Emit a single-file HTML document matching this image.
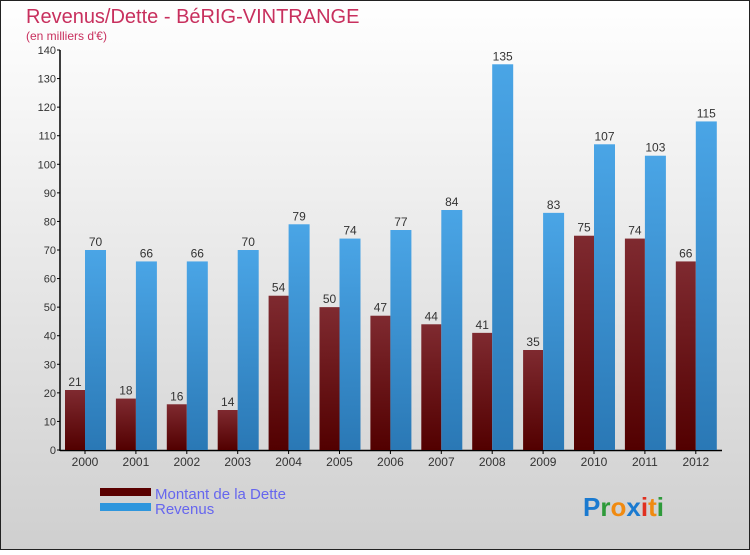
<!DOCTYPE html>
<html><head><meta charset="utf-8"><style>
body{margin:0}
svg text{font-family:"Liberation Sans",sans-serif}
</style></head><body>
<svg width="750" height="550" xmlns="http://www.w3.org/2000/svg">
<defs>
<linearGradient id="bg" x1="0" y1="0" x2="0" y2="1"><stop offset="0" stop-color="#ffffff"/><stop offset="1" stop-color="#cfcfcf"/></linearGradient>
<linearGradient id="gd" x1="0" y1="0" x2="0" y2="1"><stop offset="0" stop-color="#7f2a30"/><stop offset="1" stop-color="#520000"/></linearGradient>
<linearGradient id="gr" x1="0" y1="0" x2="0" y2="1"><stop offset="0" stop-color="#4aa5e6"/><stop offset="1" stop-color="#2a78b5"/></linearGradient>
</defs>
<rect x="0.5" y="0.5" width="749" height="549" fill="url(#bg)" stroke="#222"/>
<text x="26" y="23" font-size="20" fill="#c8305e">Revenus/Dette - BéRIG-VINTRANGE</text>
<text x="26" y="40" font-size="12" fill="#c8305e">(en milliers d'€)</text>
<g id="axes"></g>
<g id="bars"></g>
<rect x="100" y="488" width="51" height="8" fill="#5a0000"/>
<rect x="100" y="503" width="51" height="8" fill="#2e96dd"/>
<text x="155" y="499" font-size="15" fill="#6666ee">Montant de la Dette</text>
<text x="155" y="514" font-size="15" fill="#6666ee">Revenus</text>
<text x="583" y="516" font-size="26" font-weight="bold"><tspan fill="#1a7ad0">P</tspan><tspan fill="#2e9a3a">r</tspan><tspan fill="#f08a10">o</tspan><tspan fill="#1a7ad0">x</tspan><tspan fill="#e03020">i</tspan><tspan fill="#f08a10">t</tspan><tspan fill="#2e9a3a">i</tspan></text>
</svg>
<script>
const years=["2000","2001","2002","2003","2004","2005","2006","2007","2008","2009","2010","2011","2012"];
const dette=[21,18,16,14,54,50,47,44,41,35,75,74,66];
const revenus=[70,66,66,70,79,74,77,84,135,83,107,103,115];
const yTicks=[0,10,20,30,40,50,60,70,80,90,100,110,120,130,140];
const NS="http://www.w3.org/2000/svg";
const y=v=>450-v*400/140;
const xc=i=>85+i*50.9;
function mk(tag,attrs,parent){const e=document.createElementNS(NS,tag);for(const k in attrs)e.setAttribute(k,attrs[k]);parent.appendChild(e);return e;}
const ax=document.getElementById('axes'),bars=document.getElementById('bars');
yTicks.forEach(t=>{
 const l=mk('line',{x1:57,x2:60,y1:y(t),y2:y(t),stroke:'#000'},ax);
 
 
 const tx=mk('text',{x:56,y:y(t)+4,'font-size':11,'text-anchor':'end',fill:'#333'},ax);
 tx.textContent=t;
 
 
});
years.forEach((yr,i)=>{
 const c=xc(i);
 const d=mk('rect',{x:c-20,y:y(dette[i]),width:20,height:450-y(dette[i]),fill:'url(#gd)'},bars);
 
 
 const r=mk('rect',{x:c,y:y(revenus[i]),width:21,height:450-y(revenus[i]),fill:'url(#gr)'},bars);
 
 
 const dl=mk('text',{x:c-10,y:y(dette[i])-4,'font-size':12,'text-anchor':'middle',fill:'#333'},bars);
 dl.textContent=dette[i];
 
 
 const rl=mk('text',{x:c+10.5,y:y(revenus[i])-4,'font-size':12,'text-anchor':'middle',fill:'#333'},bars);
 rl.textContent=revenus[i];
 
 
 const tk=mk('line',{x1:c,x2:c,y1:450,y2:454,stroke:'#000'},ax);
 
 
 const xl=mk('text',{x:c,y:466,'font-size':12,'text-anchor':'middle',fill:'#333'},ax);
 xl.textContent=yr;
 
 
});
const ya=mk('line',{x1:60,x2:60,y1:50,y2:451,stroke:'#000','stroke-width':1.5},ax);


const xa=mk('line',{x1:60,x2:722,y1:450.5,y2:450.5,stroke:'#000','stroke-width':1.5},ax);


</script>
</body></html>
